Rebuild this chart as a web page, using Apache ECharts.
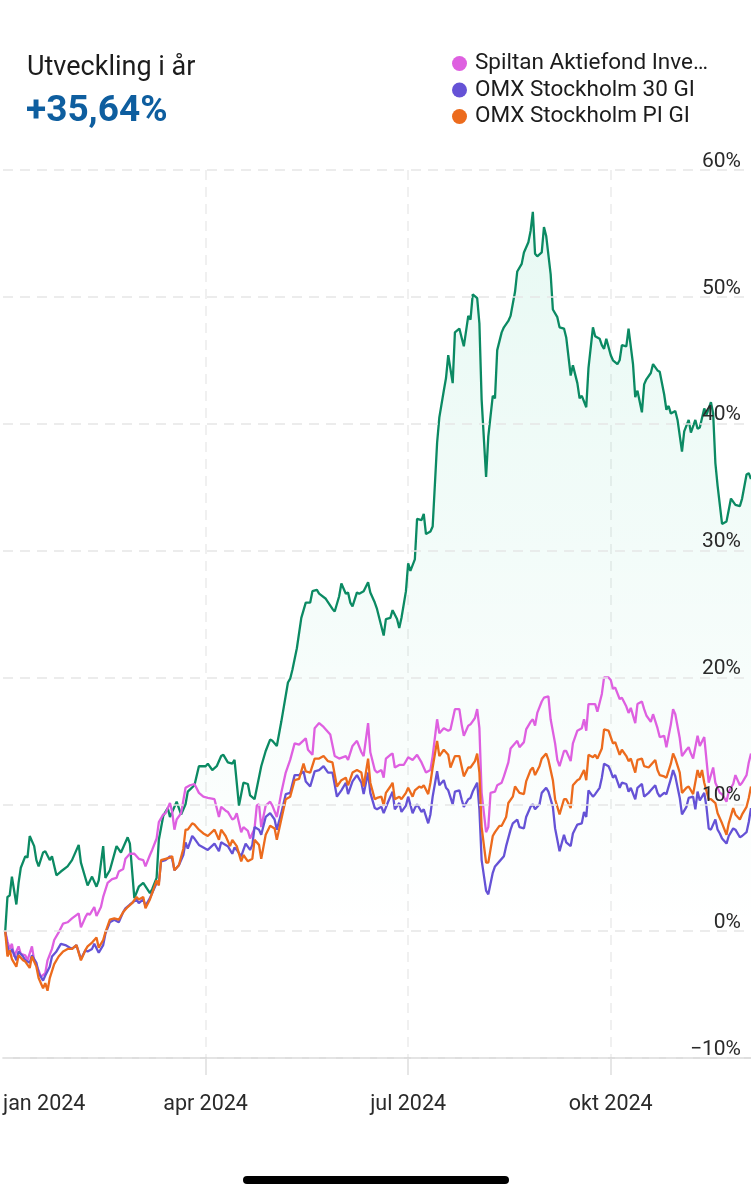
<!DOCTYPE html>
<html>
<head>
<meta charset="utf-8">
<script src="https://cdn.jsdelivr.net/npm/echarts@6/dist/echarts.min.js"></script>
<style>
  html, body { margin: 0; padding: 0; background: #fff; }
  #chart { width: 751px; height: 1200px; }
</style>
</head>
<body>
<div id="chart"></div>
<script>
// x = days since 1 jan 2024, y = % change since start of year
const fundReturn = [[1,0],[2,2.7],[3,2.8],[4,4.3],[6,2.1],[7,3.8],[8,5.0],[10,5.9],[11,5.8],[12,7.5],[14,6.7],[15,5.6],[16,5.1],[18,6.2],[19,6.3],[21,5.6],[22,5.9],[24,4.4],[26,4.7],[29,5.1],[31,5.6],[34,6.8],[35,5.4],[38,3.6],[40,4.3],[42,3.5],[43,4.0],[45,6.7],[46,4.2],[48,4.8],[51,6.7],[53,6.2],[56,7.4],[57,6.9],[59,2.6],[61,3.5],[63,3.8],[66,3.0],[67,3.3],[69,4.2],[70,7.2],[72,9.1],[74,9.7],[75,9.0],[78,10.2],[80,9.2],[82,10.0],[83,11.0],[86,11.5],[88,13.0],[91,13.0],[92,13.2],[94,12.7],[96,13.0],[98,13.8],[99,13.9],[101,13.3],[103,13.2],[104,13.5],[106,9.9],[108,11.7],[110,11.6],[111,10.7],[113,10.4],[116,13.0],[118,14.2],[120,15.1],[121,15.0],[123,14.6],[125,16.5],[128,19.6],[129,19.9],[130,20.6],[132,22.3],[134,24.7],[136,25.9],[138,25.9],[139,26.8],[141,26.9],[142,26.6],[145,26.2],[148,25.4],[149,25.2],[151,26.4],[152,27.4],[154,26.6],[155,26.7],[156,25.9],[157,25.6],[159,26.7],[160,26.6],[162,26.8],[164,27.5],[165,26.7],[167,25.9],[168,25.4],[171,23.3],[172,24.6],[174,24.7],[175,25.3],[177,24.6],[178,23.9],[179,24.7],[181,26.8],[182,29.0],[183,28.4],[185,29.3],[186,32.5],[188,32.4],[189,32.9],[190,31.3],[192,31.5],[193,31.9],[195,38.5],[196,40.5],[198,42.6],[199,43.6],[200,45.4],[202,43.2],[203,47.2],[205,47.5],[206,46.8],[207,46.1],[209,48.5],[210,48.2],[211,50.2],[213,49.9],[214,47.9],[215,41.9],[217,35.8],[218,39.0],[220,42.2],[221,42.0],[222,45.8],[224,47.2],[225,47.6],[227,48.1],[228,48.5],[230,50.4],[231,52.0],[233,52.6],[234,53.5],[236,54.3],[237,55.2],[238,56.7],[239,53.4],[240,53.2],[242,53.5],[243,55.5],[244,54.8],[246,51.8],[247,49.0],[249,48.4],[250,47.6],[252,47.5],[253,46.8],[255,43.8],[256,44.6],[258,43.2],[259,42.0],[260,42.2],[262,41.3],[263,44.4],[265,47.6],[266,46.9],[268,46.7],[269,46.2],[270,45.9],[271,46.7],[273,45.4],[274,45.0],[276,44.7],[277,45.0],[278,46.2],[280,46.1],[281,47.5],[283,44.7],[284,42.1],[285,42.6],[287,40.9],[288,43.1],[289,43.5],[291,44.0],[292,44.7],[294,44.2],[295,44.1],[297,42.3],[298,41.1],[299,41.4],[300,40.8],[302,41.0],[303,40.3],[305,37.8],[306,39.4],[308,40.3],[309,39.3],[311,40.3],[312,39.6],[313,39.7],[315,41.2],[316,40.7],[318,41.7],[319,40.8],[320,36.9],[321,35.1],[323,32.1],[325,32.3],[326,33.2],[327,34.1],[329,33.6],[331,33.5],[332,34.1],[334,36.0],[335,36.1],[336,35.64]];

const spiltanReturn = [[1,0],[2,-0.8],[3,-1.4],[4,-1.0],[5,-2.0],[7,-1.2],[8,-1.8],[10,-1.9],[11,-2.3],[13,-1.2],[14,-2.3],[16,-3.1],[17,-3.6],[19,-3.3],[20,-2.3],[22,-1.4],[23,-0.7],[25,-0.1],[27,0.6],[29,0.7],[31,1.0],[34,1.4],[35,0.3],[37,1.1],[38,1.4],[39,1.3],[41,1.9],[42,1.2],[44,1.9],[45,2.7],[47,3.8],[49,4.1],[51,4.2],[52,4.7],[54,4.9],[55,5.7],[57,6.1],[59,6.1],[61,5.7],[63,5.6],[64,5.1],[66,6.0],[67,6.4],[69,7.3],[70,8.6],[72,9.2],[73,9.3],[75,10.1],[76,9.4],[77,8.0],[78,8.8],[80,9.3],[82,11.3],[84,11.5],[86,11.6],[88,10.9],[90,10.6],[92,10.5],[95,10.4],[97,9.0],[98,9.8],[100,9.5],[101,9.4],[103,8.8],[104,8.9],[105,9.3],[107,7.8],[108,8.2],[110,7.9],[111,7.3],[113,8.1],[114,9.9],[115,10.0],[116,8.2],[118,9.9],[120,10.2],[121,9.9],[123,9.0],[125,10.9],[127,12.5],[129,13.5],[131,14.8],[133,14.7],[136,15.2],[137,14.3],[139,13.9],[140,16.0],[142,16.4],[144,16.1],[146,15.7],[147,15.5],[149,13.8],[151,13.6],[154,13.8],[155,13.5],[157,14.6],[159,15.0],[161,14.1],[162,13.8],[164,16.4],[165,14.1],[167,12.7],[168,12.5],[170,12.7],[171,12.1],[172,13.6],[174,13.9],[175,14.0],[176,12.9],[178,13.1],[180,13.1],[182,13.7],[184,13.5],[186,13.9],[188,13.3],[190,12.5],[192,12.7],[193,13.8],[195,16.7],[196,15.6],[198,16.0],[200,15.8],[201,15.9],[203,17.5],[205,17.5],[206,16.3],[207,15.4],[209,16.2],[210,16.3],[212,16.8],[213,17.5],[214,16.0],[215,10.9],[217,7.8],[218,8.2],[219,10.9],[221,11.0],[222,11.5],[224,11.7],[225,12.2],[227,13.3],[228,14.4],[231,15.0],[232,14.5],[234,14.9],[235,15.9],[237,16.5],[238,16.7],[239,16.2],[240,17.2],[242,18.1],[243,18.4],[245,18.5],[246,16.7],[248,14.8],[249,13.5],[250,13.0],[252,14.2],[253,14.2],[255,13.4],[256,14.8],[258,15.8],[260,16.0],[261,16.7],[262,15.8],[263,17.9],[265,17.9],[266,17.9],[267,17.3],[269,18.7],[270,20.0],[272,20.0],[273,19.8],[274,19.1],[275,19.2],[277,18.3],[278,18.4],[280,17.7],[281,17.2],[282,17.6],[284,16.4],[285,17.9],[287,18.1],[288,17.5],[289,17.0],[291,16.5],[292,17.1],[294,16.0],[295,15.3],[297,15.4],[298,14.5],[300,16.3],[301,17.5],[302,17.1],[304,15.2],[305,13.8],[307,14.3],[308,14.5],[309,14.0],[310,13.6],[312,15.4],[313,14.6],[315,15.3],[316,13.5],[317,11.7],[319,12.9],[320,11.7],[322,10.9],[323,10.8],[325,10.2],[326,11.0],[328,11.6],[329,12.3],[331,11.5],[332,11.7],[334,12.3],[335,13.3],[336,14.0]];

const omx30Return = [[1,0],[2,-1.2],[3,-1.8],[4,-1.4],[6,-2.3],[7,-1.6],[9,-2.0],[10,-2.3],[12,-2.5],[13,-1.9],[15,-2.5],[16,-3.3],[18,-3.9],[19,-3.5],[21,-2.8],[22,-2.0],[24,-1.6],[26,-1.0],[28,-1.1],[31,-1.4],[33,-1.1],[35,-2.2],[37,-1.5],[38,-1.6],[40,-1.4],[41,-1.0],[43,-1.7],[45,-1.1],[46,-0.2],[48,0.7],[50,0.9],[52,0.7],[54,1.5],[55,1.8],[57,2.1],[60,2.5],[61,2.2],[63,2.5],[64,2.0],[66,2.6],[67,3.0],[69,3.8],[70,3.8],[71,5.5],[73,5.6],[75,5.9],[76,5.7],[77,4.8],[79,5.2],[81,6.0],[82,7.0],[83,6.5],[85,7.5],[86,7.3],[88,6.8],[90,6.6],[92,6.4],[95,6.9],[97,6.3],[98,7.0],[100,6.8],[101,6.7],[103,6.1],[104,6.6],[105,6.4],[107,5.9],[108,6.4],[109,6.9],[111,6.4],[112,6.8],[113,8.2],[115,8.0],[116,7.6],[118,9.0],[120,9.3],[122,8.8],[123,8.0],[125,9.3],[127,10.8],[129,10.9],[131,12.3],[133,12.3],[135,12.6],[136,11.8],[138,11.4],[140,12.6],[142,12.7],[144,13.0],[146,12.5],[148,12.5],[150,10.6],[152,11.1],[154,11.7],[155,10.8],[157,11.8],[159,12.3],[161,11.7],[162,10.8],[164,12.5],[165,10.9],[167,9.7],[168,9.6],[170,9.8],[171,9.3],[173,10.2],[175,11.0],[176,9.6],[178,10.1],[179,9.4],[181,9.9],[182,10.6],[184,9.3],[185,9.7],[186,10.0],[188,9.4],[189,9.6],[191,8.5],[192,9.2],[193,10.6],[195,12.6],[196,11.5],[198,11.9],[199,11.3],[200,11.1],[202,10.0],[203,11.0],[205,11.1],[206,10.4],[207,9.8],[209,10.4],[210,10.5],[211,11.0],[213,11.7],[214,9.6],[215,5.6],[217,3.2],[218,2.9],[220,4.6],[221,5.1],[223,5.5],[225,5.9],[226,6.7],[228,8.0],[229,8.5],[231,8.8],[232,8.2],[234,8.1],[235,9.0],[237,9.8],[238,10.0],[239,9.6],[241,10.0],[242,10.9],[244,11.3],[245,11.0],[247,9.8],[248,8.1],[250,6.3],[252,7.6],[253,7.0],[255,6.7],[256,7.7],[258,8.4],[260,8.5],[261,9.4],[262,9.0],[263,11.1],[265,10.6],[266,10.8],[268,11.3],[269,12.1],[270,13.2],[272,13.0],[273,12.6],[274,12.1],[275,12.3],[277,11.3],[278,11.7],[280,11.6],[281,11.0],[282,11.3],[284,10.4],[285,11.3],[287,11.6],[288,10.6],[290,10.9],[291,11.1],[293,11.5],[294,10.9],[295,10.6],[297,10.9],[298,10.8],[300,12.0],[301,12.7],[302,12.2],[304,10.5],[305,9.2],[307,9.8],[308,10.5],[310,10.6],[311,9.6],[312,11.0],[313,10.3],[315,10.9],[316,9.8],[317,8.1],[318,8.0],[320,8.8],[321,8.0],[322,7.7],[323,7.3],[325,6.9],[326,7.5],[328,8.1],[329,8.0],[331,7.4],[332,7.5],[334,7.8],[335,8.6],[336,9.7]];

const omxPiReturn = [[1,0],[2,-2.0],[3,-1.5],[4,-2.2],[6,-2.8],[7,-1.9],[9,-2.3],[10,-2.4],[12,-2.9],[13,-2.0],[15,-2.8],[16,-3.7],[18,-4.5],[19,-4.1],[20,-4.7],[21,-3.7],[23,-2.6],[25,-2.0],[27,-1.6],[29,-1.4],[31,-1.4],[33,-1.1],[35,-2.3],[37,-1.5],[38,-1.2],[40,-0.9],[42,-0.5],[43,-1.3],[45,-0.7],[46,-0.1],[48,0.9],[50,1.0],[52,0.9],[54,1.5],[56,1.9],[58,2.2],[60,2.7],[61,2.5],[63,2.7],[64,1.8],[66,2.5],[67,3.0],[69,4.0],[70,3.6],[71,5.6],[73,5.7],[75,5.8],[76,5.9],[77,4.8],[79,5.2],[81,6.5],[82,8.0],[83,8.0],[85,8.5],[86,8.4],[88,8.0],[90,7.7],[92,7.5],[95,8.0],[97,7.2],[98,8.0],[100,7.5],[102,6.7],[103,7.2],[105,6.7],[107,5.5],[108,6.0],[110,5.5],[112,5.7],[113,7.2],[115,6.8],[116,5.7],[118,7.6],[120,8.3],[122,8.1],[123,7.2],[125,8.8],[127,10.4],[129,10.6],[131,11.9],[133,12.0],[135,13.2],[136,12.6],[138,12.5],[140,13.6],[142,13.6],[144,13.8],[146,13.4],[148,13.3],[150,11.4],[152,11.9],[154,12.1],[155,11.5],[157,12.5],[159,12.7],[161,12.5],[162,11.4],[164,13.6],[165,11.7],[167,10.4],[168,10.5],[170,10.6],[171,9.9],[172,10.9],[174,11.4],[175,11.7],[176,10.4],[178,10.6],[179,10.4],[181,10.9],[182,11.3],[184,10.6],[185,11.1],[187,11.4],[188,11.3],[189,11.5],[191,10.8],[192,11.7],[193,12.9],[195,15.0],[196,13.8],[198,14.3],[200,13.9],[201,12.9],[203,13.8],[205,13.8],[206,13.0],[207,12.2],[209,12.9],[210,12.9],[212,13.4],[213,14.0],[214,12.5],[215,8.2],[217,5.4],[218,5.4],[220,7.5],[221,7.8],[223,8.3],[224,8.3],[226,9.0],[227,10.1],[229,10.6],[230,11.4],[232,10.9],[234,10.8],[235,11.8],[237,12.7],[238,12.9],[239,12.3],[241,13.0],[242,13.6],[244,14.0],[245,13.5],[247,11.9],[248,10.4],[250,9.2],[252,10.4],[253,10.4],[255,9.7],[256,11.5],[258,11.9],[259,12.0],[261,12.7],[262,11.9],[263,13.9],[265,13.7],[266,13.9],[267,13.6],[269,14.4],[270,15.9],[272,15.8],[273,15.3],[274,14.8],[275,14.9],[277,13.9],[278,14.3],[280,13.8],[281,13.4],[282,13.6],[284,12.5],[285,13.5],[287,13.6],[288,13.0],[290,12.9],[291,13.1],[293,13.5],[294,12.7],[295,12.3],[297,12.2],[298,12.1],[300,13.2],[301,14.0],[302,13.6],[304,12.5],[305,10.9],[307,11.3],[308,11.4],[310,10.8],[312,12.7],[313,12.1],[314,12.7],[315,11.7],[317,10.4],[318,10.4],[320,10.1],[321,9.3],[323,8.5],[325,7.6],[326,8.5],[328,9.7],[329,9.2],[331,8.8],[332,9.2],[334,9.8],[335,10.5],[336,11.4]];

const seriesNames = ['Spiltan Aktiefond Investmentbolag', 'OMX Stockholm 30 GI', 'OMX Stockholm PI GI'];
const tickDays = [0, 91, 182, 273];
const tickLabels = ['jan 2024', 'apr 2024', 'jul 2024', 'okt 2024'];
const lastDay = 336;

const FONT = 'Roboto, "Noto Sans", sans-serif';
const fundColor = '#0b8a63';
const colors = ['#de60e0', '#6552d6', '#ec6b1d'];

const ytd = fundReturn[fundReturn.length - 1][1];
const ytdText = (ytd >= 0 ? '+' : '') + ytd.toFixed(2).replace('.', ',') + '%';

const chart = echarts.init(document.getElementById('chart'), null, { renderer: 'canvas' });

const line = (name, data, color) => ({
  name,
  type: 'line',
  data,
  showSymbol: false,
  symbol: 'none',
  lineStyle: { width: 2.3, color },
  itemStyle: { color },
  z: 3,
});

chart.setOption({
  animation: false,
  backgroundColor: '#fff',
  textStyle: { fontFamily: FONT },
  title: [
    {
      text: 'Utveckling i år',
      left: 22, top: 50,
      textStyle: { fontSize: 27, fontWeight: 'normal', color: '#1c1c1c', fontFamily: FONT },
    },
    {
      text: ytdText,
      left: 21, top: 88,
      textStyle: { fontSize: 37, fontWeight: 'bold', color: '#0e5e9f', fontFamily: FONT },
    },
  ],
  legend: {
    data: seriesNames,
    orient: 'vertical',
    left: 447, top: 47,
    icon: 'circle',
    itemWidth: 15, itemHeight: 15,
    itemGap: 3.5,
    selectedMode: false,
    textStyle: {
      fontSize: 22.5, color: '#1c1c1c', fontFamily: FONT,
      lineHeight: 22,
      width: 238, overflow: 'truncate', ellipsis: '…',
      padding: [0, 0, 0, 3],
    },
  },
  grid: { left: 0, right: 0, top: 170, bottom: 142, containLabel: false },
  xAxis: {
    type: 'value',
    min: 0, max: lastDay, interval: 91,
    axisLine: { onZero: false, lineStyle: { color: '#d4d4d4', width: 1.5 } },
    axisTick: { show: true, length: 17, customValues: tickDays.slice(1), lineStyle: { color: '#dedede', width: 1.5 } },
    splitLine: { show: true, lineStyle: { color: '#ececec', type: [10, 7], width: 1.5 } },
    axisLabel: {
      fontSize: 21.5, color: '#2a2a2a', margin: 36, fontFamily: FONT,
      alignMinLabel: 'left',
      customValues: tickDays,
      formatter: (v) => {
        const i = tickDays.indexOf(v);
        return i >= 0 ? tickLabels[i] : '';
      },
    },
  },
  yAxis: {
    type: 'value',
    position: 'right',
    min: -10, max: 60, interval: 10,
    axisLine: { show: false },
    axisTick: { show: false },
    splitLine: { show: true, lineStyle: { color: '#e6e6e6', type: [10, 7], width: 1.5 } },
    axisLabel: {
      inside: true,
      margin: 10,
      fontSize: 21, color: '#2a2a2a', fontFamily: FONT,
      verticalAlign: 'bottom',
      padding: [0, 0, -2, 0],
      formatter: (v) => (v < 0 ? '−' : '') + Math.abs(v) + '%',
    },
    z: 5,
  },
  series: [
    {
      name: 'fund',
      type: 'line',
      data: fundReturn,
      showSymbol: false,
      symbol: 'none',
      lineStyle: { width: 2.3, color: fundColor },
      itemStyle: { color: fundColor },
      areaStyle: {
        color: new echarts.graphic.LinearGradient(0, 0, 0, 1, [
          { offset: 0, color: 'rgba(0,190,130,0.13)' },
          { offset: 1, color: 'rgba(0,190,130,0.0)' },
        ]),
      },
      z: 2,
    },
    line(seriesNames[0], spiltanReturn, colors[0]),
    line(seriesNames[1], omx30Return, colors[1]),
    line(seriesNames[2], omxPiReturn, colors[2]),
  ],
  graphic: [
    {
      type: 'rect',
      shape: { x: 243, y: 1176, width: 266, height: 8, r: 4 },
      style: { fill: '#000' },
      silent: true,
    },
  ],
});
</script>
</body>
</html>
